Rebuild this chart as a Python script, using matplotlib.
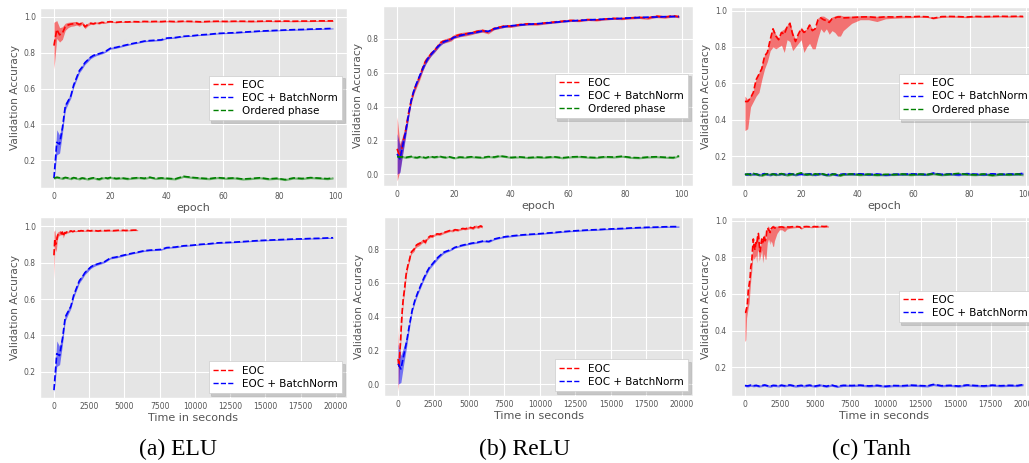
import matplotlib
matplotlib.use("Agg")
import matplotlib.pyplot as plt
from matplotlib.ticker import MultipleLocator
import numpy as np

#############################################################################
# data (mean curve + spread of the shaded band)

elu_epoch = [0,1,2,3,4,5,6,7,8,9,10,11,12,13,14,15,16,17,18,19,20,
             22,24,26,28,30,32,34,36,38,40,
             43,46,49,52,55,58,61,64,67,70,73,76,79,82,85,88,91,94,97,99]
relu_epoch = elu_epoch
tanh_epoch = [0,1,2,3,4,5,6,7,8,9,10,11,12,13,14,15,16,17,18,19,20,21,22,23,24,25,
              26,27,28,29,30,31,32,33,34,35,
              38,41,44,47,50,53,56,59,62,65,67,70,73,76,79,82,85,88,91,94,97,99]

# seconds per epoch (bottom row)
sec_eoc = 60
sec_bn = 200

elu_eoc = [0.84, 0.93, 0.90, 0.91, 0.945, 0.955, 0.96, 0.962, 0.965, 0.958, 0.967, 0.945, 0.958,
           0.965, 0.962, 0.968, 0.965, 0.970, 0.968, 0.972, 0.974,
           0.970, 0.973, 0.972, 0.974, 0.973, 0.975, 0.974, 0.975, 0.974, 0.976,
           0.974, 0.976, 0.975, 0.973, 0.975, 0.976, 0.975, 0.976, 0.976, 0.975, 0.976, 0.977,
           0.976, 0.977, 0.976, 0.977, 0.977, 0.978, 0.978, 0.978]
elu_eoc_sd = [0.13, 0.05, 0.04, 0.035, 0.02, 0.015, 0.012, 0.012, 0.01, 0.01, 0.008, 0.01, 0.008,
              0.006, 0.005, 0.005, 0.005, 0.004, 0.004, 0.004, 0.004,
              0.003, 0.003, 0.003, 0.003, 0.003, 0.003, 0.003, 0.003, 0.003, 0.003,
              0.003, 0.003, 0.003, 0.003, 0.003, 0.003, 0.003, 0.003, 0.003, 0.003, 0.003, 0.003,
              0.003, 0.003, 0.003, 0.003, 0.003, 0.003, 0.003, 0.003]
elu_bn = [0.10, 0.30, 0.29, 0.38, 0.50, 0.53, 0.56, 0.62, 0.66, 0.70, 0.72, 0.745, 0.76, 0.775,
          0.785, 0.79, 0.795, 0.80, 0.805, 0.815, 0.825,
          0.830, 0.838, 0.845, 0.852, 0.858, 0.865, 0.868, 0.870, 0.872, 0.882,
          0.885, 0.892, 0.895, 0.900, 0.903, 0.908, 0.910, 0.912, 0.915, 0.918, 0.921, 0.923,
          0.925, 0.927, 0.929, 0.930, 0.932, 0.933, 0.935, 0.936]
elu_bn_sd = [0.01, 0.07, 0.05, 0.03, 0.02, 0.015, 0.012, 0.012, 0.012, 0.012, 0.01, 0.01, 0.01,
             0.008, 0.008, 0.006, 0.006, 0.006, 0.005, 0.005, 0.005,
             0.005, 0.005, 0.004, 0.004, 0.004, 0.004, 0.004, 0.004, 0.004, 0.004,
             0.004, 0.003, 0.003, 0.003, 0.003, 0.003, 0.003, 0.003, 0.003, 0.003, 0.003, 0.003,
             0.003, 0.003, 0.003, 0.003, 0.003, 0.003, 0.003, 0.003]
elu_ord = [0.100, 0.105, 0.102, 0.098, 0.104, 0.101, 0.097, 0.103, 0.099, 0.096, 0.101, 0.098,
           0.095, 0.099, 0.102, 0.097, 0.094, 0.100, 0.103, 0.099, 0.104,
           0.098, 0.101, 0.097, 0.100, 0.103, 0.099, 0.105, 0.098, 0.101, 0.099,
           0.096, 0.110, 0.104, 0.100, 0.097, 0.103, 0.099, 0.101, 0.095, 0.098, 0.102, 0.096,
           0.099, 0.092, 0.101, 0.098, 0.103, 0.100, 0.097, 0.101]

relu_eoc = [0.15, 0.10, 0.18, 0.26, 0.36, 0.44, 0.50, 0.54, 0.58, 0.63, 0.67, 0.69, 0.715, 0.73,
            0.75, 0.775, 0.785, 0.79, 0.795, 0.80, 0.815,
            0.825, 0.830, 0.835, 0.845, 0.850, 0.840, 0.862, 0.870, 0.878, 0.875,
            0.885, 0.890, 0.888, 0.895, 0.900, 0.905, 0.910, 0.908, 0.915, 0.912, 0.918, 0.922,
            0.920, 0.925, 0.928, 0.924, 0.935, 0.930, 0.937, 0.932]
relu_eoc_sd = [0.19, 0.08, 0.05, 0.03, 0.025, 0.02, 0.02, 0.02, 0.02, 0.02, 0.018, 0.015, 0.012,
               0.012, 0.012, 0.012, 0.012, 0.012, 0.012, 0.012, 0.012,
               0.012, 0.012, 0.01, 0.01, 0.01, 0.01, 0.008, 0.008, 0.008, 0.007,
               0.007, 0.007, 0.007, 0.007, 0.006, 0.006, 0.006, 0.006, 0.006, 0.006, 0.006, 0.006,
               0.006, 0.007, 0.007, 0.008, 0.008, 0.008, 0.007, 0.007]
relu_bn = [0.12, 0.09, 0.17, 0.25, 0.35, 0.44, 0.50, 0.545, 0.585, 0.625, 0.66, 0.69, 0.71, 0.73,
           0.75, 0.765, 0.78, 0.787, 0.793, 0.80, 0.81,
           0.820, 0.828, 0.835, 0.840, 0.848, 0.845, 0.860, 0.868, 0.874, 0.878,
           0.883, 0.887, 0.890, 0.894, 0.898, 0.903, 0.907, 0.910, 0.913, 0.915, 0.918, 0.920,
           0.922, 0.925, 0.927, 0.929, 0.930, 0.932, 0.933, 0.933]
relu_bn_sd = [0.12, 0.08, 0.05, 0.03, 0.02, 0.012, 0.012, 0.012, 0.012, 0.012, 0.012, 0.01, 0.01,
              0.01, 0.01, 0.008, 0.008, 0.006, 0.006, 0.005, 0.005,
              0.005, 0.005, 0.005, 0.005, 0.005, 0.005, 0.005, 0.005, 0.005, 0.005,
              0.004, 0.004, 0.004, 0.004, 0.004, 0.004, 0.004, 0.004, 0.004, 0.004, 0.004, 0.004,
              0.004, 0.004, 0.004, 0.004, 0.004, 0.004, 0.004, 0.004]
relu_ord = [0.104, 0.101, 0.103, 0.099, 0.102, 0.105, 0.100, 0.098, 0.103, 0.101, 0.097, 0.102,
            0.104, 0.100, 0.103, 0.106, 0.101, 0.099, 0.104, 0.100, 0.096,
            0.101, 0.099, 0.103, 0.100, 0.098, 0.104, 0.101, 0.108, 0.104, 0.099,
            0.102, 0.098, 0.101, 0.099, 0.103, 0.097, 0.102, 0.104, 0.100, 0.098, 0.103, 0.101,
            0.106, 0.099, 0.097, 0.101, 0.103, 0.100, 0.098, 0.108]

tanh_eoc = [0.50, 0.50, 0.52, 0.55, 0.62, 0.65, 0.68, 0.75, 0.77, 0.84, 0.90, 0.86, 0.84, 0.88,
            0.87, 0.91, 0.93, 0.87, 0.83, 0.87, 0.90, 0.88, 0.89, 0.92, 0.89, 0.90, 0.95, 0.96,
            0.95, 0.945, 0.935, 0.955, 0.96, 0.965, 0.965, 0.96,
            0.962, 0.965, 0.966, 0.962, 0.966, 0.965, 0.967, 0.966, 0.968, 0.966, 0.958, 0.967,
            0.968, 0.967, 0.965, 0.968, 0.967, 0.968, 0.969, 0.968, 0.969, 0.968]
tanh_eoc_lo = [0.34, 0.35, 0.47, 0.50, 0.53, 0.55, 0.62, 0.68, 0.72, 0.78, 0.80, 0.79, 0.80, 0.81,
               0.77, 0.84, 0.83, 0.78, 0.80, 0.82, 0.84, 0.77, 0.80, 0.82, 0.79, 0.79, 0.85, 0.90,
               0.88, 0.90, 0.87, 0.89, 0.88, 0.86, 0.86, 0.89,
               0.93, 0.95, 0.95, 0.94, 0.955, 0.958, 0.960, 0.961, 0.963, 0.962, 0.954, 0.963,
               0.964, 0.963, 0.961, 0.964, 0.963, 0.964, 0.965, 0.964, 0.965, 0.964]
tanh_eoc_hi = [0.53, 0.51, 0.53, 0.56, 0.63, 0.66, 0.70, 0.76, 0.78, 0.85, 0.905, 0.87, 0.85, 0.89,
               0.90, 0.92, 0.94, 0.88, 0.84, 0.875, 0.91, 0.89, 0.90, 0.93, 0.90, 0.905, 0.96, 0.97,
               0.97, 0.96, 0.95, 0.965, 0.97, 0.975, 0.975, 0.97,
               0.970, 0.972, 0.972, 0.969, 0.971, 0.970, 0.971, 0.970, 0.972, 0.970, 0.962, 0.971,
               0.972, 0.971, 0.969, 0.972, 0.971, 0.972, 0.973, 0.972, 0.973, 0.972]
tanh_bn = [0.100, 0.098, 0.102, 0.099, 0.101, 0.097, 0.100, 0.103, 0.099, 0.096, 0.101, 0.100,
           0.098, 0.102, 0.099, 0.101, 0.103, 0.100, 0.097, 0.099, 0.101, 0.098, 0.100, 0.102,
           0.099, 0.097, 0.100, 0.103, 0.099, 0.096, 0.100, 0.102, 0.098, 0.095, 0.099, 0.101,
           0.100, 0.102, 0.098, 0.101, 0.096, 0.100, 0.099, 0.102, 0.100, 0.098, 0.106, 0.099,
           0.101, 0.097, 0.103, 0.100, 0.098, 0.102, 0.099, 0.101, 0.100, 0.105]
tanh_ord = [0.098, 0.101, 0.097, 0.104, 0.100, 0.096, 0.093, 0.099, 0.102, 0.098, 0.101, 0.097,
            0.100, 0.103, 0.099, 0.095, 0.098, 0.101, 0.097, 0.103, 0.107, 0.101, 0.098, 0.100,
            0.097, 0.102, 0.099, 0.104, 0.100, 0.096, 0.094, 0.099, 0.101, 0.097, 0.093, 0.099,
            0.101, 0.097, 0.100, 0.096, 0.099, 0.098, 0.101, 0.097, 0.100, 0.099, 0.102, 0.097,
            0.100, 0.104, 0.099, 0.097, 0.101, 0.094, 0.100, 0.098, 0.101, 0.097]
flat_sd = 0.006  # band of the ~0.1 curves

captions = ["(a) ELU", "(b) ReLU", "(c) Tanh"]

#############################################################################

plt.style.use("ggplot")
W, H = 1029, 463
fig = plt.figure(figsize=(W / 100, H / 100), dpi=100)


def box(l, t, r, b):
    return [l / W, 1 - b / H, (r - l) / W, (b - t) / H]


def band(ax, x, m, lo, hi, color, label):
    ax.fill_between(x, lo, hi, color=color, alpha=0.5, lw=0)
    ax.plot(x, m, "--", color=color, lw=1.2, label=label)


def sd_band(ax, x, m, sd, color, label):
    m = np.array(m)
    band(ax, x, m, m - np.array(sd), m + np.array(sd), color, label)


def style(ax, xlabel, ylim, ystep, xstep, loc):
    ax.set_ylim(ylim)
    ax.yaxis.set_major_locator(MultipleLocator(ystep))
    ax.xaxis.set_major_locator(MultipleLocator(xstep))
    ax.tick_params(labelsize=5.5, length=0, pad=3)
    ax.set_xlabel(xlabel, fontsize=8, labelpad=1)
    ax.set_ylabel("Validation Accuracy", fontsize=7.7, labelpad=3)
    leg = ax.legend(loc=loc, fontsize=7.5, facecolor="white", framealpha=1, edgecolor="0.8",
                    labelspacing=0.3, shadow={"alpha": 0.2}, fancybox=False)
    for ln in leg.get_lines():
        ln.set_linewidth(1.0)


panels = [
    (elu_epoch, elu_eoc, elu_eoc_sd, elu_bn, elu_bn_sd, elu_ord),
    (relu_epoch, relu_eoc, relu_eoc_sd, relu_bn, relu_bn_sd, relu_ord),
]
top_boxes = [box(40, 8, 347, 188), box(383, 6, 693, 186), box(731, 7, 1037, 186)]
bot_boxes = [box(40, 217, 347, 398), box(384, 217, 693, 396), box(731, 217, 1037, 396)]
top_ylim = [(0.045, 1.05), (-0.07, 0.995), (0.035, 1.02)]
bot_ylim = [(0.057, 1.05), (-0.07, 0.99), (0.043, 1.02)]
ysteps = [0.2, 0.2, 0.2]

for i in range(3):
    ax1 = fig.add_axes(top_boxes[i])
    ax2 = fig.add_axes(bot_boxes[i])
    if i < 2:
        ep, eoc, eoc_sd, bn, bn_sd, ordp = panels[i]
        x = np.array(ep)
        sd_band(ax1, x, eoc, eoc_sd, "red", "EOC")
        sd_band(ax1, x, bn, bn_sd, "blue", "EOC + BatchNorm")
        sd_band(ax1, x, ordp, [flat_sd] * len(ordp), "green", "Ordered phase")
        sd_band(ax2, x * sec_eoc, eoc, eoc_sd, "red", "EOC")
        sd_band(ax2, x * sec_bn, bn, bn_sd, "blue", "EOC + BatchNorm")
        bloc = "lower right"
    else:
        x = np.array(tanh_epoch)
        band(ax1, x, tanh_eoc, tanh_eoc_lo, tanh_eoc_hi, "red", "EOC")
        sd_band(ax1, x, tanh_bn, [flat_sd] * len(tanh_bn), "blue", "EOC + BatchNorm")
        sd_band(ax1, x, tanh_ord, [flat_sd] * len(tanh_ord), "green", "Ordered phase")
        band(ax2, x * sec_eoc, tanh_eoc, tanh_eoc_lo, tanh_eoc_hi, "red", "EOC")
        sd_band(ax2, x * sec_bn, tanh_bn, [flat_sd] * len(tanh_bn), "blue", "EOC + BatchNorm")
        bloc = "center right"
    ax1.set_xlim(-4.95, 103.95)
    ax2.set_xlim(-990, 20790)
    style(ax1, "epoch", top_ylim[i], ysteps[i], 20, "center right")
    style(ax2, "Time in seconds", bot_ylim[i], ysteps[i], 2500, bloc)

cap_x = [178, 525, 871]
for i in range(3):
    fig.text(cap_x[i] / W, 1 - 449 / H, captions[i], ha="center", va="center",
             fontsize=17, family="Liberation Serif", color="black")

fig.savefig("out.png", dpi=100, facecolor="white")
